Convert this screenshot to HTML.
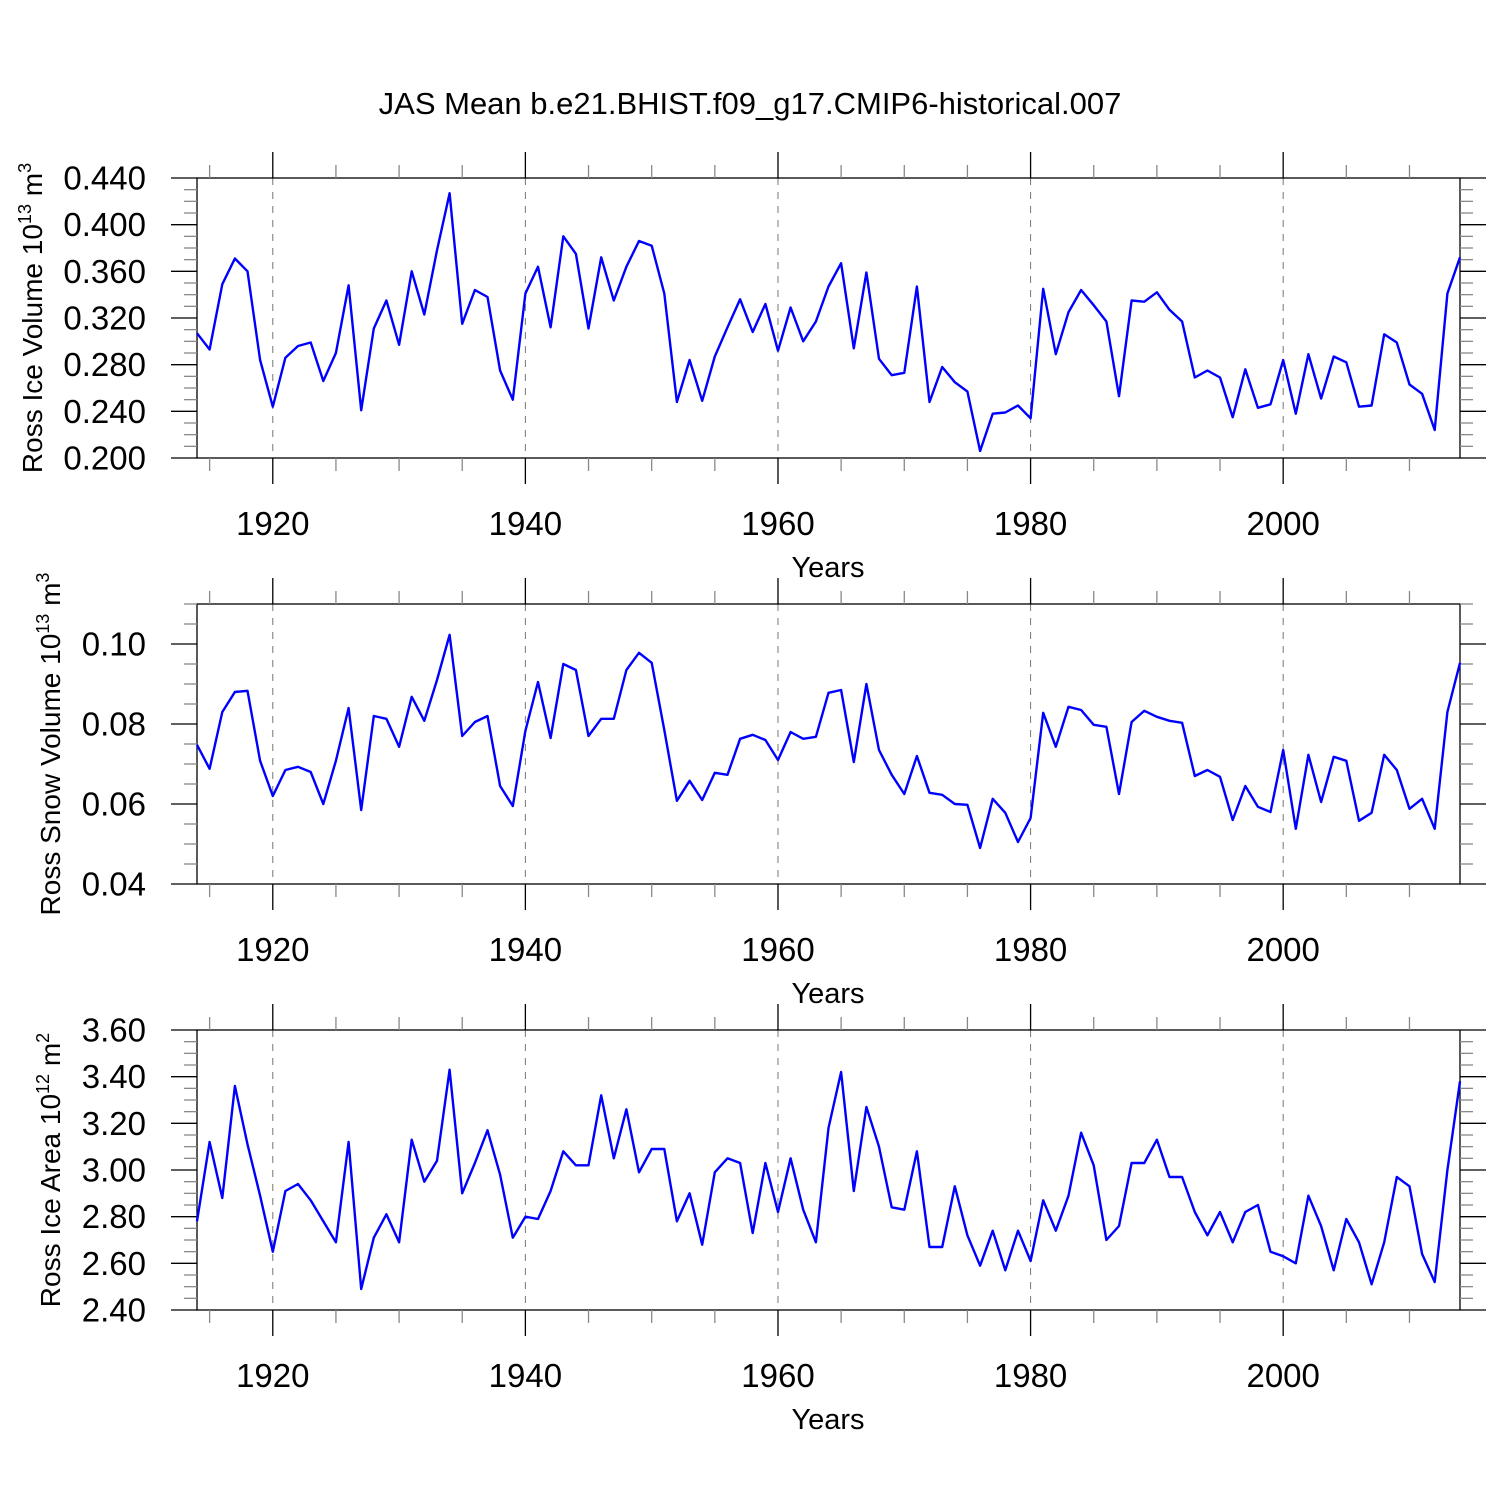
<!DOCTYPE html>
<html><head><meta charset="utf-8"><style>
html,body{margin:0;padding:0;background:#fff;}
svg{display:block;font-family:"Liberation Sans",sans-serif;}
</style></head><body>
<svg id="chart" width="1500" height="1500" viewBox="0 0 1500 1500" xmlns="http://www.w3.org/2000/svg">
<rect width="1500" height="1500" fill="#fff"/>
<text x="750" y="114" text-anchor="middle" font-size="31">JAS Mean b.e21.BHIST.f09_g17.CMIP6-historical.007</text>
</svg>
<script>
const years = [];
for (let y = 1914; y <= 2014; y++) years.push(y);
const xTickLabels = [1920, 1940, 1960, 1980, 2000];

const iceVolume = [0.307,0.293,0.349,0.371,0.360,0.284,0.244,0.286,0.296,0.299,0.266,0.290,0.348,0.241,0.311,0.335,0.297,0.360,0.323,0.378,0.427,0.315,0.344,0.338,0.275,0.250,
0.341,0.364,0.312,0.390,0.375,0.311,0.372,0.335,0.364,0.386,0.382,0.341,0.248,0.284,0.249,0.287,0.312,0.336,0.308,0.332,
0.292,0.329,0.300,0.317,0.347,0.367,0.294,0.359,0.285,0.271,0.273,0.347,0.248,0.278,0.265,0.257,0.206,0.238,0.239,0.245,
0.234,0.345,0.289,0.325,0.344,0.331,0.317,0.253,0.335,0.334,0.342,0.327,0.317,0.269,0.275,0.269,0.235,0.276,0.243,0.246,
0.284,0.238,0.289,0.251,0.287,0.282,0.244,0.245,0.306,0.299,0.263,0.255,0.224,0.341,0.372];
const snowVolume = [0.0748,0.0688,0.083,0.088,0.0883,0.0708,0.062,0.0685,0.0693,0.068,0.060,0.0708,0.084,0.0585,0.082,0.0813,0.0743,0.0868,0.0808,0.091,0.1023,0.077,0.0805,0.082,0.0645,0.0595,
0.0783,0.0905,0.0765,0.095,0.0935,0.077,0.0813,0.0813,0.0935,0.0978,0.0953,0.0785,0.0608,0.0658,0.061,0.0678,0.0673,0.0763,0.0773,0.076,
0.071,0.078,0.0763,0.0768,0.0878,0.0885,0.0705,0.090,0.0735,0.0673,0.0625,0.072,0.0628,0.0623,0.060,0.0598,0.049,0.0613,0.0578,0.0505,
0.0565,0.0828,0.0743,0.0843,0.0835,0.0798,0.0793,0.0625,0.0805,0.0833,0.0818,0.0808,0.0803,0.067,0.0685,0.0668,0.056,0.0645,0.0593,0.058,
0.0735,0.0538,0.0723,0.0605,0.0718,0.0708,0.0558,0.0578,0.0723,0.0685,0.0588,0.0613,0.0538,0.083,0.0953];
const iceArea = [2.78,3.12,2.88,3.36,3.11,2.89,2.65,2.91,2.94,2.87,2.78,2.69,3.12,2.49,2.71,2.81,2.69,3.13,2.95,3.04,3.43,2.90,3.03,3.17,2.98,2.71,
2.80,2.79,2.91,3.08,3.02,3.02,3.32,3.05,3.26,2.99,3.09,3.09,2.78,2.90,2.68,2.99,3.05,3.03,2.73,3.03,
2.82,3.05,2.83,2.69,3.18,3.42,2.91,3.27,3.10,2.84,2.83,3.08,2.67,2.67,2.93,2.72,2.59,2.74,2.57,2.74,
2.61,2.87,2.74,2.89,3.16,3.02,2.70,2.76,3.03,3.03,3.13,2.97,2.97,2.82,2.72,2.82,2.69,2.82,2.85,2.65,
2.63,2.60,2.89,2.76,2.57,2.79,2.69,2.51,2.69,2.97,2.93,2.64,2.52,3.00,3.38];

const iceVolTicks = ["0.200","0.240","0.280","0.320","0.360","0.400","0.440"];
const snowTicks = ["0.04","0.06","0.08","0.10"];
const areaTicks = ["2.40","2.60","2.80","3.00","3.20","3.40","3.60"];

const NS = "http://www.w3.org/2000/svg";
const svg = document.getElementById("chart");
function mk(tag, attrs, parent) {
  const e = document.createElementNS(NS, tag);
  for (const k in attrs) e.setAttribute(k, attrs[k]);
  (parent || svg).appendChild(e);
  return e;
}
const X0 = 197, X1 = 1460, XMIN = 1914, XMAX = 2014;
function xScale(v) { return X0 + (v - XMIN) / (XMAX - XMIN) * (X1 - X0); }

function panel(cfg) {
  const g = mk("g", {});
  
  
  const top = cfg.top, bot = cfg.top + 280;
  const yScale = v => bot - (v - cfg.ymin) / (cfg.ymax - cfg.ymin) * 280;
  xTickLabels.forEach(t => {
    const l = mk("line", {x1: xScale(t), x2: xScale(t), y1: top, y2: bot, stroke: "#777", "stroke-width": 1, "stroke-dasharray": "7,7"}, g);
    
    
  });
  const fr = mk("rect", {x: X0, y: top, width: X1 - X0, height: 280, fill: "none", stroke: "#000", "stroke-width": 1.3}, g);
  
  
  for (let yr = 1915; yr <= 2010; yr += 5) {
    const major = yr % 20 === 0;
    const len = major ? 26 : 13;
    const x = xScale(yr);
    mk("line", {x1: x, x2: x, y1: top, y2: top - len, stroke: major ? "#000" : "#888", "stroke-width": 1.3}, g);
    mk("line", {x1: x, x2: x, y1: bot, y2: bot + len, stroke: major ? "#000" : "#888", "stroke-width": 1.3}, g);
  }
  xTickLabels.forEach(t => {
    const tx = mk("text", {x: xScale(t), y: bot + 77, "text-anchor": "middle", "font-size": 33}, g);
    
    
    tx.textContent = t;
  });
  for (let v = cfg.ymin; v <= cfg.ymax + 1e-9; v += cfg.minor) {
    const rel = (v - cfg.ymin) / cfg.major;
    const major = Math.abs(rel - Math.round(rel)) < 1e-6;
    const len = major ? 26 : 13;
    const y = yScale(v);
    mk("line", {x1: X0, x2: X0 - len, y1: y, y2: y, stroke: major ? "#000" : "#888", "stroke-width": 1.3}, g);
    mk("line", {x1: X1, x2: X1 + len, y1: y, y2: y, stroke: major ? "#000" : "#888", "stroke-width": 1.3}, g);
  }
  cfg.ticks.forEach(t => {
    const tx = mk("text", {x: 146, y: yScale(parseFloat(t)) + 11.5, "text-anchor": "end", "font-size": 33}, g);
    
    
    tx.textContent = t;
  });
  const xt = mk("text", {x: 828, y: bot + 119, "text-anchor": "middle", "font-size": 29}, g);
  
  
  xt.textContent = "Years";
  const yt = mk("text", {transform: `translate(${cfg.ytx},${top + 140}) rotate(-90)`, "text-anchor": "middle", "font-size": 28}, g);
  
  
  const a = mk("tspan", {}, yt); a.textContent = cfg.label + " 10";
  const b = mk("tspan", {"font-size": 18, dy: -11}, yt); b.textContent = cfg.exp;
  const c = mk("tspan", {dy: 11}, yt); c.textContent = " m";
  const d = mk("tspan", {"font-size": 18, dy: -11}, yt); d.textContent = cfg.unitExp;
  const pts = cfg.data.map((v, i) => xScale(years[i]).toFixed(1) + "," + yScale(v).toFixed(1)).join(" ");
  const pl = mk("polyline", {points: pts, fill: "none", stroke: "#0000ff", "stroke-width": 2.4, "stroke-linejoin": "round"}, g);
  
  
}

panel({name: "ice-volume-panel", top: 178, ymin: 0.2, ymax: 0.44, major: 0.04, minor: 0.01, ticks: iceVolTicks, data: iceVolume, label: "Ross Ice Volume", exp: "13", unitExp: "3", ytx: 42});
panel({name: "snow-volume-panel", top: 604, ymin: 0.04, ymax: 0.11, major: 0.02, minor: 0.005, ticks: snowTicks, data: snowVolume, label: "Ross Snow Volume", exp: "13", unitExp: "3", ytx: 60});
panel({name: "ice-area-panel", top: 1030, ymin: 2.4, ymax: 3.6, major: 0.2, minor: 0.05, ticks: areaTicks, data: iceArea, label: "Ross Ice Area", exp: "12", unitExp: "2", ytx: 60});
</script>
</body></html>
